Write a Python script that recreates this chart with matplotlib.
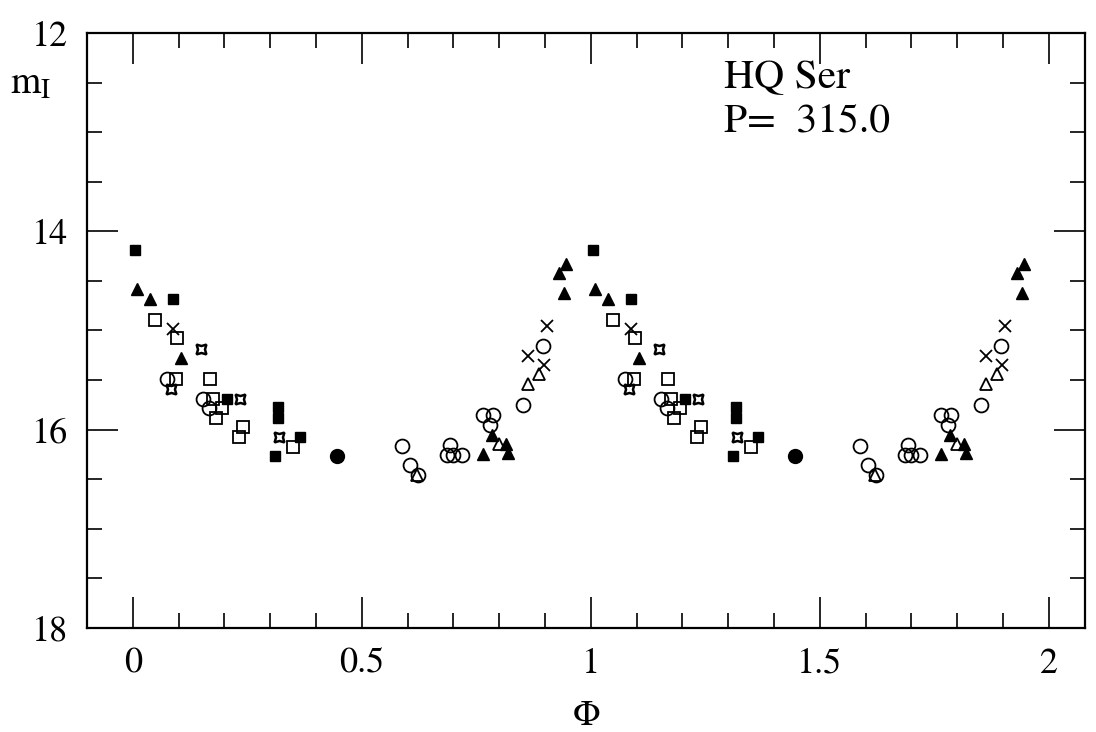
import numpy as np
import matplotlib.pyplot as plt
from matplotlib.ticker import MultipleLocator, FuncFormatter

plt.rcParams['font.family'] = ['STIXGeneral', 'DejaVu Serif']
plt.rcParams['mathtext.fontset'] = 'stix'

# phases in [0,1), each set is shown again at phase+1
fsq_ph = [0.004, 0.087, 0.205, 0.317, 0.317, 0.365, 0.310]
fsq_m = [14.19, 14.68, 15.69, 15.77, 15.88, 16.07, 16.27]

ftr_ph = [0.009, 0.037, 0.105, 0.784, 0.764, 0.815, 0.819, 0.941, 0.930, 0.945]
ftr_m = [14.58, 14.68, 15.28, 16.05, 16.25, 16.14, 16.24, 14.62, 14.42, 14.33]

osq_ph = [0.048, 0.096, 0.094, 0.168, 0.175, 0.194, 0.181, 0.240, 0.231, 0.349]
osq_m = [14.89, 15.08, 15.49, 15.49, 15.69, 15.78, 15.88, 15.97, 16.07, 16.17]

crs_ph = [0.087, 0.862, 0.897, 0.904]
crs_m = [14.98, 15.26, 15.35, 14.95]

star_ph = [0.148, 0.083, 0.235, 0.319]
star_m = [15.19, 15.59, 15.69, 16.07]

oc_ph = [0.075, 0.153, 0.166, 0.587, 0.605, 0.622, 0.692, 0.686, 0.699, 0.718,
         0.764, 0.786, 0.780, 0.852, 0.896]
oc_m = [15.49, 15.69, 15.78, 16.16, 16.36, 16.46, 16.15, 16.26, 16.26, 16.26,
        15.85, 15.85, 15.95, 15.75, 15.16]

otr_ph = [0.620, 0.800, 0.862, 0.887]
otr_m = [16.46, 16.14, 15.54, 15.44]

fc_ph = [0.445]
fc_m = [16.27]

star, period = 'HQ Ser', 315.0

fig = plt.figure(figsize=(10.96, 7.32), dpi=100)
ax = fig.add_axes([0.0794, 0.142, 0.911, 0.813])

def pts(ph, m, **kw):
    ph = np.asarray(ph)
    x = np.concatenate([ph, ph + 1])
    y = np.concatenate([m, m])
    ax.plot(x, y, ls='none', color='k', **kw)

pts(fsq_ph, fsq_m, marker='s', ms=7.5, mfc='k')
pts(ftr_ph, ftr_m, marker='^', ms=9, mfc='k')
pts(osq_ph, osq_m, marker='s', ms=8, mfc='none', mew=1.3)
pts(crs_ph, crs_m, marker='x', ms=8, mew=1.3)
pts(star_ph, star_m, marker=(4, 1, 45), ms=10, mfc='none', mew=1.8)
pts(oc_ph, oc_m, marker='o', ms=10, mfc='none', mew=1.3)
pts(otr_ph, otr_m, marker='^', ms=9, mfc='none', mew=1.3)
pts(fc_ph, fc_m, marker='o', ms=10, mfc='k')

ax.set_xlim(-0.1, 2.08)
ax.set_ylim(18, 12)
ax.xaxis.set_major_locator(MultipleLocator(0.5))
ax.xaxis.set_minor_locator(MultipleLocator(0.1))
ax.yaxis.set_major_locator(MultipleLocator(2))
ax.yaxis.set_minor_locator(MultipleLocator(0.5))
ax.xaxis.set_major_formatter(FuncFormatter(lambda v, p: '%g' % v))
ax.tick_params(which='both', direction='in', top=True, right=True, width=1.2,
               labelsize=26)
ax.tick_params(which='major', length=22, pad=14)
ax.tick_params(which='minor', length=11)
for s in ax.spines.values():
    s.set_linewidth(1.6)

fig.text(0.009, 0.885, r'$\mathrm{m_I}$', fontsize=28, ha='left', va='center')
ax.set_xlabel(r'$\Phi$', fontsize=26, labelpad=14)
ax.text(0.638, 0.924, star, transform=ax.transAxes, fontsize=30, va='center')
ax.text(0.638, 0.850, 'P=  %.1f' % period, transform=ax.transAxes, fontsize=30,
        va='center')

fig.savefig('out.png', dpi=100)
